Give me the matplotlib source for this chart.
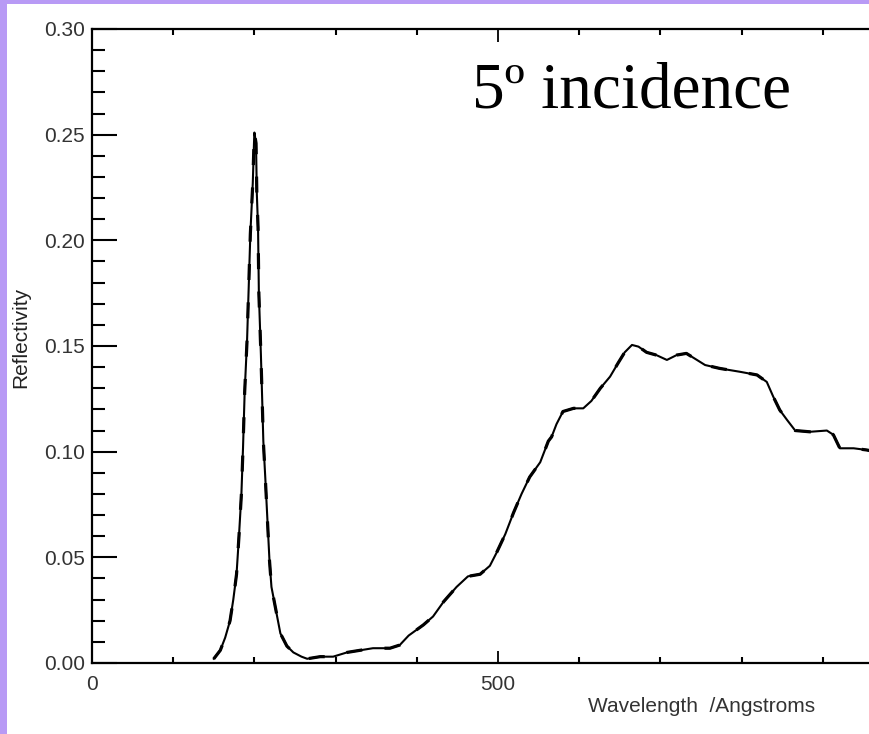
import numpy as np
import matplotlib
matplotlib.use("Agg")
import matplotlib.pyplot as plt
from matplotlib.patches import Rectangle
from matplotlib.ticker import MultipleLocator, FormatStrFormatter

# reflectivity curve (wavelength in Angstroms)
wavelength = [150, 158, 164, 170, 174, 178, 181, 184, 186, 188, 191, 193, 195,
              198, 199.5, 200, 202, 203, 204.5, 205.5, 208, 209.5, 211, 213.5,
              216, 218.5, 221, 226.5, 232, 240, 248, 258, 265, 281, 297, 314,
              330, 346, 367, 379, 390, 408, 420, 433, 449, 463, 478, 490, 498,
              509, 519, 529, 539, 552, 562, 566, 572, 580, 593, 605, 615, 626,
              638, 648, 656, 665, 673, 683, 695, 708, 720, 732, 745, 755, 773,
              798, 819, 831, 839, 847, 856, 866, 884, 905, 913, 921, 938, 954, 965]
reflectivity = [0.002, 0.006, 0.012, 0.020, 0.030, 0.042, 0.060, 0.080, 0.102,
                0.128, 0.153, 0.178, 0.203, 0.227, 0.246, 0.251, 0.246, 0.222,
                0.206, 0.175, 0.146, 0.126, 0.105, 0.087, 0.068, 0.049, 0.036,
                0.025, 0.014, 0.008, 0.005, 0.003, 0.002, 0.003, 0.003, 0.005,
                0.006, 0.007, 0.007, 0.0085, 0.013, 0.018, 0.022, 0.029, 0.036,
                0.041, 0.042, 0.046, 0.052, 0.061, 0.071, 0.080, 0.088, 0.095,
                0.105, 0.107, 0.113, 0.119, 0.1205, 0.1205, 0.124, 0.130, 0.1355,
                0.142, 0.147, 0.1505, 0.1497, 0.147, 0.1457, 0.1434, 0.1457,
                0.1465, 0.1434, 0.141, 0.1394, 0.1378, 0.1363, 0.133, 0.126,
                0.1197, 0.115, 0.110, 0.1094, 0.110, 0.108, 0.1016, 0.1016,
                0.1008, 0.100]
x_labels = [0, 500]

W, H = 870, 734
fig = plt.figure(figsize=(W / 100, H / 100), dpi=100, facecolor="#b89af5")
fig.patches.append(Rectangle((7 / W, 0), 1, 1 - 4 / H, transform=fig.transFigure,
                             facecolor="white", edgecolor="none", zorder=-10))

# axes runs past the right edge of the picture, as in the original
ax = fig.add_axes([92 / W, 71 / H, 812 / W, 634 / H])
ax.set_facecolor("white")

ax.plot(wavelength, reflectivity, color="black", lw=1.5, zorder=3)
ax.plot(wavelength, reflectivity, color="black", lw=2.3, dashes=(5, 7), zorder=3)

ax.set_xlim(0, 1000)
ax.set_ylim(0, 0.30)

ax.set_xticks(x_labels)
ax.xaxis.set_minor_locator(MultipleLocator(100))
ax.yaxis.set_major_locator(MultipleLocator(0.05))
ax.yaxis.set_minor_locator(MultipleLocator(0.01))
ax.yaxis.set_major_formatter(FormatStrFormatter("%.2f"))

for s in ax.spines.values():
    s.set_linewidth(1.6)
ax.spines["right"].set_visible(False)

ax.tick_params(axis="y", which="major", direction="in", length=18, width=1.5,
               labelsize=15, labelcolor="#333333", pad=5)
ax.tick_params(axis="y", which="minor", direction="in", length=9.5, width=1.5)
ax.tick_params(axis="x", which="major", direction="in", length=9, width=1.3,
               labelsize=15, labelcolor="#333333", pad=9, top=True)
ax.tick_params(axis="x", which="minor", direction="in", length=4.5, width=1.5,
               top=True)
for lab in ax.get_xticklabels() + ax.get_yticklabels():
    lab.set_family("Liberation Sans")

fig.text(702 / W, 1 - 706 / H, "Wavelength  /Angstroms", family="Liberation Sans",
         fontsize=15, color="#333333", ha="center", va="center")
fig.text(21 / W, 1 - 337 / H, "Reflectivity", family="Liberation Sans",
         fontsize=15, color="#222222", ha="center", va="center", rotation=90)
fig.text(472 / W, 1 - 108 / H, "5º incidence", family="Liberation Serif",
         fontsize=47, color="black", ha="left", va="baseline")

fig.savefig("out.png", dpi=100, facecolor=fig.get_facecolor())
